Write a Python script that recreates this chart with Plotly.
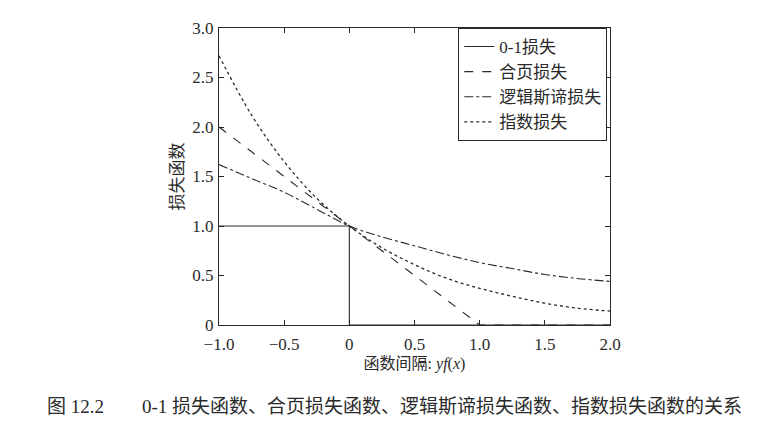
import plotly.graph_objects as go

# values
x_zero_one = [-1.0, 0.0, 0.0, 2.0]
y_zero_one = [1.0, 1.0, 0.0, 0.0]

x_hinge = [-1.0, 1.0, 2.0]
y_hinge = [2.0, 0.0, 0.0]

x_curve = [-1.0, -0.75, -0.5, -0.25, 0.0, 0.25, 0.5, 0.75, 1.0, 1.25, 1.5, 1.75, 2.0]
y_logistic = [1.62, 1.48, 1.34, 1.17, 1.0, 0.89, 0.80, 0.71, 0.63, 0.57, 0.51, 0.47, 0.44]
y_exp = [2.72, 2.12, 1.65, 1.28, 1.0, 0.78, 0.61, 0.47, 0.37, 0.29, 0.22, 0.17, 0.14]

x_ticks = [-1.0, -0.5, 0, 0.5, 1.0, 1.5, 2.0]
x_tick_text = ["−1.0", "−0.5", "0", "0.5", "1.0", "1.5", "2.0"]
y_ticks = [0, 0.5, 1.0, 1.5, 2.0, 2.5, 3.0]
y_tick_text = ["0", "0.5", "1.0", "1.5", "2.0", "2.5", "3.0"]

names = ["0-1损失", "合页损失", "逻辑斯谛损失", "指数损失"]
caption = "图 12.2\u2003\u20030-1 损失函数、合页损失函数、逻辑斯谛损失函数、指数损失函数的关系"

FONT = "Liberation Serif, Noto Sans CJK SC, serif"
INK = "#2a2a2a"

fig = go.Figure()
fig.add_trace(go.Scatter(x=x_zero_one, y=y_zero_one, mode="lines", name=names[0],
                         line=dict(color=INK, width=1.1)))
fig.add_trace(go.Scatter(x=x_hinge, y=y_hinge, mode="lines", name=names[1],
                         line=dict(color=INK, width=1.1, dash="dash")))
fig.add_trace(go.Scatter(x=x_curve, y=y_logistic, mode="lines", name=names[2],
                         line=dict(color=INK, width=1.1, dash="dashdot", shape="spline")))
fig.add_trace(go.Scatter(x=x_curve, y=y_exp, mode="lines", name=names[3],
                         line=dict(color=INK, width=1.3, dash="dot", shape="spline")))

axis_common = dict(showgrid=False, zeroline=False, showline=True, linecolor=INK,
                   linewidth=1, mirror="ticks", ticks="inside", ticklen=5,
                   tickcolor=INK, tickfont=dict(family=FONT, size=17, color=INK))

fig.update_xaxes(range=[-1, 2], tickvals=x_ticks, ticktext=x_tick_text,
                 ticklabelstandoff=4,
                 title=dict(text="函数间隔: <i>yf</i>(<i>x</i>)",
                            font=dict(family=FONT, size=16, color=INK), standoff=4),
                 **axis_common)
fig.update_yaxes(range=[0, 3], tickvals=y_ticks, ticktext=y_tick_text,
                 ticklabelstandoff=1,
                 title=dict(text="损失函数", font=dict(family=FONT, size=17, color=INK),
                            standoff=4),
                 **axis_common)

fig.add_annotation(text=caption, xref="paper", yref="paper",
                   x=(45 - 219) / 391, y=(325 - 406) / 297,
                   xanchor="left", yanchor="middle", showarrow=False,
                   font=dict(family=FONT, size=19, color=INK))

fig.update_layout(
    width=769, height=422,
    margin=dict(l=219, r=159, t=28, b=97),
    paper_bgcolor="white", plot_bgcolor="white",
    font=dict(family=FONT, color=INK),
    legend=dict(x=0.993, y=1, xanchor="right", yanchor="top",
                bordercolor=INK, borderwidth=1, bgcolor="white",
                font=dict(family=FONT, size=17, color=INK),
                tracegroupgap=0, itemwidth=30),
)

fig.write_html("out.html", config={"displayModeBar": False},
               post_script="document.body.style.margin='0';")
